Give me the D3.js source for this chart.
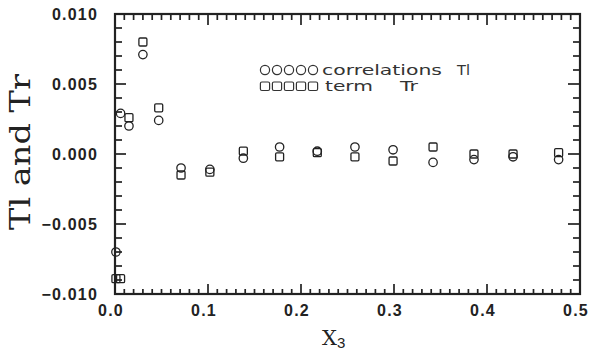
<!DOCTYPE html>
<html>
<head>
<meta charset="utf-8">
<script src="https://cdn.jsdelivr.net/npm/d3@7"></script>
</head>
<body style="margin:0">
<div id="chart"></div>
<script>
// x3 positions of the measurement stations
var x3 = [0.001, 0.006, 0.015, 0.030, 0.047, 0.071, 0.102, 0.138, 0.177, 0.2175, 0.258, 0.299, 0.342, 0.386, 0.428, 0.477];
// correlations Tl (circles)
var tlValues = [-0.0070, 0.0029, 0.0020, 0.0071, 0.0024, -0.0010, -0.0011, -0.0003, 0.0005, 0.0002, 0.0005, 0.0003, -0.0006, -0.0004, -0.0002, -0.0004];
// term Tr (squares)
var trValues = [-0.0089, -0.0089, 0.0026, 0.0080, 0.0033, -0.0015, -0.0013, 0.0002, -0.0002, 0.0001, -0.0002, -0.0005, 0.0005, 0.0000, 0.0000, 0.0001];

var xTicks = [0.0, 0.1, 0.2, 0.3, 0.4, 0.5];
var yTicks = [-0.010, -0.005, 0.000, 0.005, 0.010];
var xMinor = d3.range(0, 51).map(function (i) { return i / 100; });
var yMinor = d3.range(-10, 11).map(function (i) { return i / 1000; });

var ink = "#222";
var plotLeft = 115, plotRight = 580, plotTop = 14, plotBottom = 294;

var svg = d3.select("#chart").append("svg")
  .attr("width", 589)
  .attr("height", 355);

var x = d3.scaleLinear().domain([0, 0.5]).range([plotLeft, plotRight]);
var y = d3.scaleLinear().domain([-0.010, 0.010]).range([plotBottom, plotTop]);

function majorX(d) { return Math.abs(d * 10 - Math.round(d * 10)) < 1e-6; }
function majorY(d) { return Math.abs(d * 200 - Math.round(d * 200)) < 1e-6; }

// frame
svg.append("rect")
  .attr("x", plotLeft).attr("y", plotTop)
  .attr("width", plotRight - plotLeft).attr("height", plotBottom - plotTop)
  .attr("fill", "none")
  .attr("stroke", ink)
  .attr("stroke-width", 2.2);

// ticks, bottom and top
svg.selectAll("line.tb").data(xMinor).enter().append("line")
  .attr("class", "tb")
  .attr("x1", function (d) { return x(d); })
  .attr("x2", function (d) { return x(d); })
  .attr("y1", plotBottom)
  .attr("y2", function (d) { return plotBottom - (majorX(d) ? 10 : 5); })
  .attr("stroke", ink).attr("stroke-width", 1.7);

svg.selectAll("line.tt").data(xMinor).enter().append("line")
  .attr("class", "tt")
  .attr("x1", function (d) { return x(d); })
  .attr("x2", function (d) { return x(d); })
  .attr("y1", plotTop)
  .attr("y2", function (d) { return plotTop + (majorX(d) ? 11 : 6); })
  .attr("stroke", ink).attr("stroke-width", 1.7);

// ticks, left and right
svg.selectAll("line.tl").data(yMinor).enter().append("line")
  .attr("class", "tl")
  .attr("y1", function (d) { return y(d); })
  .attr("y2", function (d) { return y(d); })
  .attr("x1", plotLeft)
  .attr("x2", function (d) { return plotLeft + (majorY(d) ? 11 : 7); })
  .attr("stroke", ink).attr("stroke-width", 1.7);

svg.selectAll("line.tr").data(yMinor).enter().append("line")
  .attr("class", "tr")
  .attr("y1", function (d) { return y(d); })
  .attr("y2", function (d) { return y(d); })
  .attr("x1", plotRight)
  .attr("x2", function (d) { return plotRight - (majorY(d) ? 12 : 7); })
  .attr("stroke", ink).attr("stroke-width", 1.7);

// tick labels
svg.selectAll("text.xlab").data(xTicks).enter().append("text")
  .attr("class", "xlab")
  .attr("x", function (d) { return x(d) - 4; })
  .attr("y", plotBottom + 22)
  .attr("text-anchor", "middle")
  .attr("font-family", "Liberation Sans, Arial, sans-serif")
  .attr("font-weight", "bold")
  .attr("font-size", 16)
  .attr("letter-spacing", 1.2)
  .attr("fill", ink)
  .text(function (d) { return d3.format(".1f")(d); });

svg.selectAll("text.ylab").data(yTicks).enter().append("text")
  .attr("class", "ylab")
  .attr("x", plotLeft - 17)
  .attr("y", function (d) { return y(d); })
  .attr("dy", "0.36em")
  .attr("text-anchor", "end")
  .attr("font-family", "Liberation Sans, Arial, sans-serif")
  .attr("font-weight", "bold")
  .attr("font-size", 16)
  .attr("letter-spacing", 1.2)
  .attr("fill", ink)
  .text(function (d) { return d3.format(".3f")(d).replace("-", "\u2013"); });

// axis titles
svg.append("text")
  .attr("transform", "translate(30, 152) rotate(-90)")
  .attr("text-anchor", "middle")
  .attr("font-family", "DejaVu Serif, serif")
  .attr("font-size", 27)
  .attr("fill", ink)
  .attr("textLength", 156)
  .attr("lengthAdjust", "spacingAndGlyphs")
  .text("Tl and Tr");

var xt = svg.append("text")
  .attr("x", 322)
  .attr("y", 345)
  .attr("fill", ink);
xt.append("tspan")
  .attr("font-family", "DejaVu Serif, serif")
  .attr("font-size", 21)
  .text("X");
xt.append("tspan")
  .attr("font-family", "Liberation Sans, sans-serif")
  .attr("font-size", 15)
  .attr("dy", 3)
  .text("3");

// data points
svg.selectAll("rect.sq").data(x3).enter().append("rect")
  .attr("class", "sq")
  .attr("x", function (d) { return x(d) - 4; })
  .attr("y", function (d, i) { return y(trValues[i]) - 4; })
  .attr("width", 8).attr("height", 8)
  .attr("rx", 1.2)
  .attr("fill", "none")
  .attr("stroke", ink)
  .attr("stroke-width", 1.3);

svg.selectAll("circle.ci").data(x3).enter().append("circle")
  .attr("class", "ci")
  .attr("cx", function (d) { return x(d); })
  .attr("cy", function (d, i) { return y(tlValues[i]); })
  .attr("r", 4.2)
  .attr("fill", "none")
  .attr("stroke", ink)
  .attr("stroke-width", 1.3);

// legend
var legendSlots = [0, 1, 2, 3, 4];
var legend = svg.append("g").attr("transform", "translate(265, 0)");

legend.selectAll("circle").data(legendSlots).enter().append("circle")
  .attr("cx", function (d) { return d * 12; })
  .attr("cy", 70)
  .attr("r", 4.6)
  .attr("fill", "none")
  .attr("stroke", "#333")
  .attr("stroke-width", 1.2);

legend.selectAll("rect").data(legendSlots).enter().append("rect")
  .attr("x", function (d) { return d * 12 - 4.6; })
  .attr("y", 82)
  .attr("width", 9.2).attr("height", 8.5)
  .attr("rx", 1.5)
  .attr("fill", "none")
  .attr("stroke", "#333")
  .attr("stroke-width", 1.2);

function legendText(tx, ty, len, label) {
  svg.append("text")
    .attr("x", tx).attr("y", ty)
    .attr("font-family", "DejaVu Sans, sans-serif")
    .attr("font-size", 14)
    .attr("fill", "#333")
    .attr("textLength", len)
    .attr("lengthAdjust", "spacingAndGlyphs")
    .text(label);
}
legendText(322, 75, 120, "correlations");
legendText(457, 75, 13, "Tl");
legendText(325, 91, 48, "term");
legendText(400, 91, 18, "Tr");
</script>
</body>
</html>
